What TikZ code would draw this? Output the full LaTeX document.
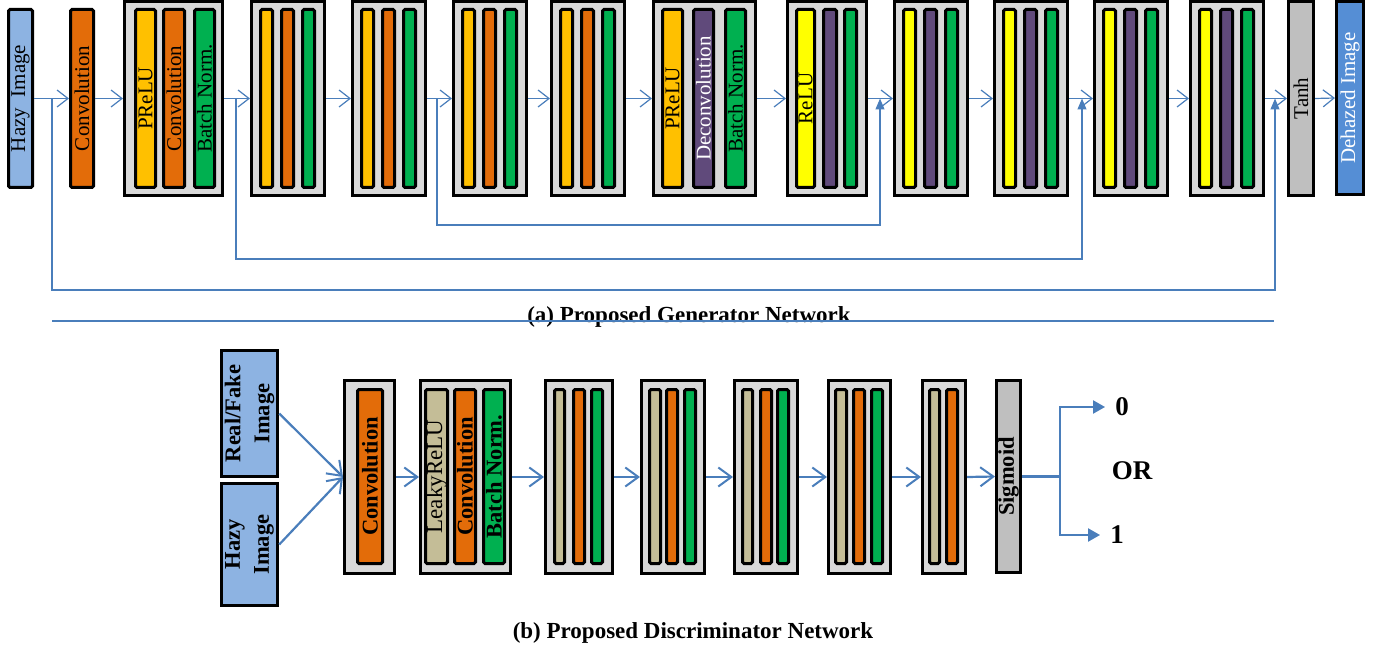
\documentclass[tikz,border=0pt]{standalone}
\usepackage{fontspec}
\setmainfont{Liberation Serif}
\usetikzlibrary{arrows.meta}

\definecolor{cHaze}{HTML}{8DB3E2}
\definecolor{cOrange}{HTML}{E36C09}
\definecolor{cGold}{HTML}{FFC000}
\definecolor{cGreen}{HTML}{00B050}
\definecolor{cPurple}{HTML}{604A7B}
\definecolor{cYellow}{HTML}{FFFF00}
\definecolor{cPanel}{HTML}{D9D9D9}
\definecolor{cAct}{HTML}{BFBFBF}
\definecolor{cOut}{HTML}{558ED5}
\definecolor{cTan}{HTML}{C4BD97}
\definecolor{cLink}{HTML}{4A7EBB}

% a box given by its outer extents x1,x2,y1,y2 (stroke 3pt)
\newcommand{\cell}[6]{%
  \node[#1, minimum width={(#4)-(#3)-3}, minimum height={(#6)-(#5)-3}]
    (#2) at ({((#3)+(#4))/2},{((#5)+(#6))/2}) {};}
% the same box with a rotated label in its middle
\newcommand{\lcell}[8]{%
  \cell{#1}{#2}{#3}{#4}{#5}{#6}%
  \node[rotate=90, inner sep=0pt, #7] (#2-t) at (#2.center) {#8};}
% generator residual block: grey panel with three thin layers
\newcommand{\gsmall}[5]{%
  \cell{panel}{#1}{#2}{(#2)+76}{0}{197}%
  \cell{bar,fill=#3}{#1a}{(#2)+9}{(#2)+24}{8}{189}%
  \cell{bar,fill=#4}{#1b}{(#2)+30}{(#2)+45}{8}{189}%
  \cell{bar,fill=#5}{#1c}{(#2)+51}{(#2)+66}{8}{189}}

\tikzset{
  panel/.style={draw=black, line width=3pt, fill=cPanel, inner sep=0pt},
  bar/.style={draw=black, line width=3pt, inner sep=0pt, rounded corners=1.5pt},
  inbox/.style={draw=black, line width=3.5pt, fill=cHaze, inner sep=0pt},
  gtxt/.style={font=\fontsize{21}{24}\selectfont, text=black},
  dtxt/.style={font=\fontsize{22.5}{29}\selectfont\bfseries, text=black, align=center},
  link/.style={draw=cLink, line width=1.2pt, -{Straight Barb[length=11pt,width=17pt,line width=1.2pt]}},
  skiplink/.style={draw=cLink, line width=1.1pt, -{Triangle[length=11pt,width=9pt]}},
  dlink/.style={draw=cLink, line width=2.2pt, -{Straight Barb[length=13pt,width=19pt,line width=2pt]}},
  dout/.style={draw=cLink, line width=2.2pt, -{Triangle[length=12pt,width=13pt]}},
  caption/.style={font=\fontsize{23}{27}\selectfont\bfseries, inner sep=0pt},
}

\begin{document}
\begin{tikzpicture}[x=1pt, y=-1pt]
\useasboundingbox (0,0) rectangle (1386,655);

% ---------------- generator ----------------
\lcell{bar,fill=cHaze}{hz}{7}{34}{8}{189}{gtxt}{Hazy~~Image}
\lcell{bar,fill=cOrange}{cv0}{69}{95}{8}{189}{gtxt}{Convolution}

\cell{panel}{g1}{123}{224}{0}{197}
\lcell{bar,fill=cGold}{g1a}{134}{157}{8}{189}{gtxt}{PReLU}
\lcell{bar,fill=cOrange}{g1b}{162}{186}{8}{189}{gtxt}{Convolution}
\lcell{bar,fill=cGreen}{g1c}{193}{216}{8}{189}{gtxt}{Batch Norm.}

\gsmall{g2}{250}{cGold}{cOrange}{cGreen}
\gsmall{g3}{351}{cGold}{cOrange}{cGreen}
\gsmall{g4}{452}{cGold}{cOrange}{cGreen}
\gsmall{g5}{550}{cGold}{cOrange}{cGreen}

\cell{panel}{g6}{652}{757}{0}{197}
\lcell{bar,fill=cGold}{g6a}{661}{684}{8}{189}{gtxt}{PReLU}
\lcell{bar,fill=cPurple}{g6b}{692}{715}{8}{189}{gtxt,text=white}{Deconvolution}
\lcell{bar,fill=cGreen}{g6c}{724}{747}{8}{189}{gtxt}{Batch Norm.}

\cell{panel}{g7}{786}{868}{0}{197}
\lcell{bar,fill=cYellow}{g7a}{795}{816}{8}{189}{gtxt}{ReLU}
\cell{bar,fill=cPurple}{g7b}{822}{838}{8}{189}
\cell{bar,fill=cGreen}{g7c}{843}{858}{8}{189}

\gsmall{g8}{893}{cYellow}{cPurple}{cGreen}
\gsmall{g9}{993}{cYellow}{cPurple}{cGreen}
\gsmall{g10}{1093}{cYellow}{cPurple}{cGreen}
\gsmall{g11}{1189}{cYellow}{cPurple}{cGreen}

\lcell{bar,fill=cAct,rounded corners=0pt}{th}{1287}{1315}{0}{197}{gtxt}{Tanh}
\lcell{bar,fill=cOut,rounded corners=0pt}{dh}{1335}{1365}{0}{196}{gtxt,text=white}{Dehazed Image}

% main data path
\draw[link] (hz.east) -- (cv0.west);
\draw[link] (cv0.east) -- (g1.west);
\draw[link] (g1.east) -- (g2.west);
\draw[link] (g2.east) -- (g3.west);
\draw[link] (g3.east) -- (g4.west);
\draw[link] (g4.east) -- (g5.west);
\draw[link] (g5.east) -- (g6.west);
\draw[link] (g6.east) -- (g7.west);
\draw[link] (g7.east) -- (g8.west);
\draw[link] (g8.east) -- (g9.west);
\draw[link] (g9.east) -- (g10.west);
\draw[link] (g10.east) -- (g11.west);
\draw[link] (g11.east) -- (th.west);
\draw[link] (th.east) -- (dh.west);

% skip connections
\coordinate (s1) at (52,98.5);
\coordinate (s2) at (236,98.5);
\coordinate (s3) at (437,98.5);
\coordinate (t1) at (1275,98.5);
\coordinate (t2) at (1082,98.5);
\coordinate (t3) at (880,98.5);
\draw[skiplink] (s1) -- ++(0,191.5) -| (t1);
\draw[skiplink] (s2) -- ++(0,160.5) -| (t2);
\draw[skiplink] (s3) -- ++(0,126.5) -| (t3);

\node[caption] (capa) at (689,317) {(a) Proposed Generator Network};
\draw[draw=cLink, line width=1.5pt] (52,321) -- (1274,321);

% ---------------- discriminator ----------------
\lcell{inbox}{rf}{220}{279}{349}{478}{dtxt}{Real/Fake\\Image}
\lcell{inbox}{hz2}{220}{279}{482}{607}{dtxt}{Hazy\\Image}

\cell{panel}{dc}{343}{396}{379}{575}
\lcell{bar,fill=cOrange}{dca}{356}{384}{388}{565}{dtxt}{Convolution}

\cell{panel}{d2}{419}{512}{379}{575}
\lcell{bar,fill=cTan}{d2a}{424}{449}{388}{565}{gtxt,font=\fontsize{23}{27}\selectfont}{LeakyReLU}
\lcell{bar,fill=cOrange}{d2b}{453}{477}{388}{565}{dtxt}{Convolution}
\lcell{bar,fill=cGreen}{d2c}{482}{506}{388}{565}{dtxt}{Batch Norm.}

\cell{panel}{d3}{544}{614}{379}{575}
\cell{bar,fill=cTan}{d3a}{553}{566}{388}{565}
\cell{bar,fill=cOrange}{d3b}{572}{586}{388}{565}
\cell{bar,fill=cGreen}{d3c}{590}{604}{388}{565}

\cell{panel}{d4}{640}{706}{379}{575}
\cell{bar,fill=cTan}{d4a}{648}{662}{388}{565}
\cell{bar,fill=cOrange}{d4b}{665}{679}{388}{565}
\cell{bar,fill=cGreen}{d4c}{683}{697}{388}{565}

\cell{panel}{d5}{733}{799}{379}{575}
\cell{bar,fill=cTan}{d5a}{741}{754}{388}{565}
\cell{bar,fill=cOrange}{d5b}{759}{773}{388}{565}
\cell{bar,fill=cGreen}{d5c}{776}{790}{388}{565}

\cell{panel}{d6}{827}{892}{379}{575}
\cell{bar,fill=cTan}{d6a}{834}{848}{388}{565}
\cell{bar,fill=cOrange}{d6b}{852}{866}{388}{565}
\cell{bar,fill=cGreen}{d6c}{870}{884}{388}{565}

\cell{panel}{d7}{921}{967}{379}{575}
\cell{bar,fill=cTan}{d7a}{928}{941}{388}{565}
\cell{bar,fill=cOrange}{d7b}{945}{959}{388}{565}

\lcell{bar,fill=cAct,rounded corners=0pt}{sg}{995}{1022}{379}{574}{dtxt}{Sigmoid}

\draw[dlink] (rf.east) -- (dc.west);
\draw[dlink] (hz2.east) -- (dc.west);
\draw[dlink] (dc.east) -- (d2.west);
\draw[dlink] (d2.east) -- (d3.west);
\draw[dlink] (d3.east) -- (d4.west);
\draw[dlink] (d4.east) -- (d5.west);
\draw[dlink] (d5.east) -- (d6.west);
\draw[dlink] (d6.east) -- (d7.west);
\draw[dlink] (d7.east) -- (sg.west);

% decision output
\node[font=\fontsize{27}{30}\selectfont\bfseries, inner sep=0pt] (zero) at (1122,407) {0};
\node[font=\fontsize{27}{30}\selectfont\bfseries, inner sep=0pt] (orw) at (1132,471) {OR};
\node[font=\fontsize{27}{30}\selectfont\bfseries, inner sep=0pt] (one) at (1117,535) {1};
\coordinate (fork) at (1060,476.5);
\draw[draw=cLink, line width=2.2pt] (sg.east) -- (fork);
\draw[dout] (fork) |- ([xshift=-10pt]zero.west);
\draw[dout] (fork) |- ([xshift=-10pt]one.west);

\node[caption] (capb) at (693,633) {(b) Proposed Discriminator Network};
\end{tikzpicture}
\end{document}
